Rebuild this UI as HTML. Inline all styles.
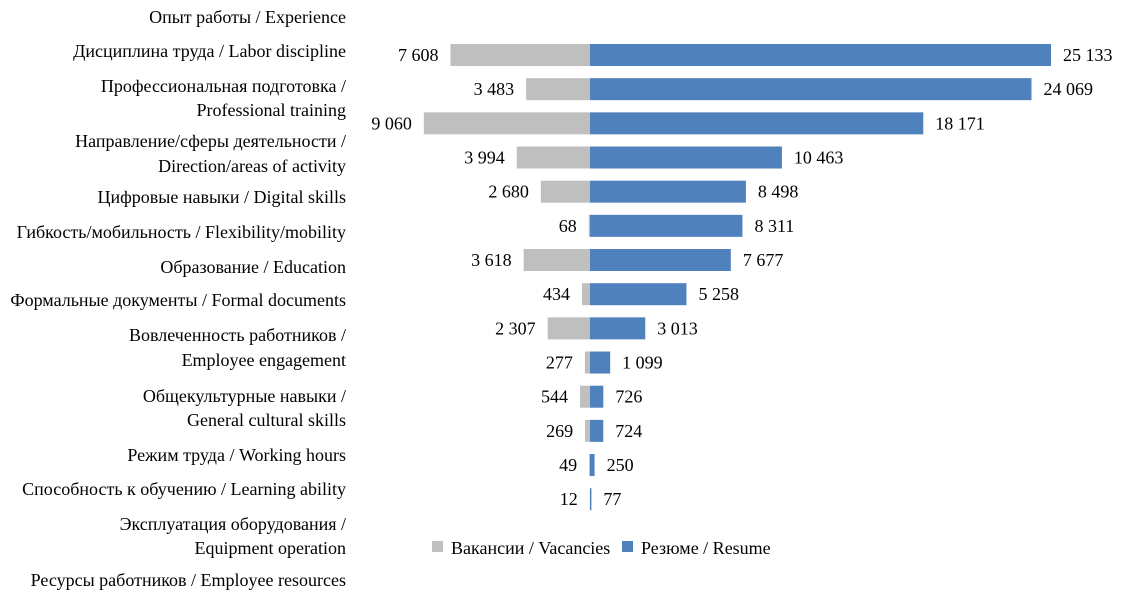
<!DOCTYPE html>
<html><head><meta charset="utf-8">
<style>
html,body{margin:0;padding:0;background:#fff;width:1130px;height:607px;overflow:hidden}
svg text{font-family:"Liberation Serif","DejaVu Serif",serif;font-size:18px;fill:#000}
</style></head>
<body>
<svg id="chart" width="1130" height="607">
<g id="labels"></g>
<g id="bars"></g>
<g>
<rect x="432" y="541" width="11" height="11" fill="#bfbfbf"/>
<text x="451" y="554">Вакансии / Vacancies</text>
<rect x="622" y="541" width="11" height="11" fill="#4f81bd"/>
<text x="641" y="554">Резюме / Resume</text>
</g>
</svg>
<script>
const vacancies=[7608,3483,9060,3994,2680,68,3618,434,2307,277,544,269,49,12];
const resumes=[25133,24069,18171,10463,8498,8311,7677,5258,3013,1099,726,724,250,77];
const categoryLines=["Опыт работы / Experience","Дисциплина труда / Labor discipline","Профессиональная подготовка /","Professional training","Направление/сферы деятельности /","Direction/areas of activity","Цифровые навыки / Digital skills","Гибкость/мобильность / Flexibility/mobility","Образование / Education","Формальные документы / Formal documents","Вовлеченность работников /","Employee engagement","Общекультурные навыки /","General cultural skills","Режим труда / Working hours","Способность к обучению / Learning ability","Эксплуатация оборудования /","Equipment operation","Ресурсы работников / Employee resources"];
const labelY=[17,51,86,110,141,166,197,232,267,300,335,360,396,420,455,489,524,548,580];
const NS="http://www.w3.org/2000/svg";
const cx=590, k=461/25133;
const x=v=>v*k;
const rowY=i=>55+i*34.17;
const fmt=n=>String(n).replace(/\B(?=(\d{3})+(?!\d))/g,"\u00a0");
const L=document.getElementById("labels"), B=document.getElementById("bars");
categoryLines.forEach((t,i)=>{
 const e=document.createElementNS(NS,"text");
 e.setAttribute("x",346);e.setAttribute("y",labelY[i]+6);e.setAttribute("text-anchor","end");
 e.textContent=t;
 
 
 L.appendChild(e);
});
vacancies.forEach((v,i)=>{
 const y=rowY(i), w=x(v), r=x(resumes[i]);
 const a=document.createElementNS(NS,"rect");
 a.setAttribute("x",cx-w);a.setAttribute("y",y-11);a.setAttribute("width",w);a.setAttribute("height",22);a.setAttribute("fill","#bfbfbf");
 
 
 B.appendChild(a);
 const b=document.createElementNS(NS,"rect");
 b.setAttribute("x",cx);b.setAttribute("y",y-11);b.setAttribute("width",r);b.setAttribute("height",22);b.setAttribute("fill","#4f81bd");
 
 
 B.appendChild(b);
 const t1=document.createElementNS(NS,"text");
 t1.setAttribute("x",cx-w-12);t1.setAttribute("y",y+6);t1.setAttribute("text-anchor","end");t1.textContent=fmt(v);
 
 
 B.appendChild(t1);
 const t2=document.createElementNS(NS,"text");
 t2.setAttribute("x",cx+r+12);t2.setAttribute("y",y+6);t2.textContent=fmt(resumes[i]);
 
 
 B.appendChild(t2);
});
</script>
</body></html>
